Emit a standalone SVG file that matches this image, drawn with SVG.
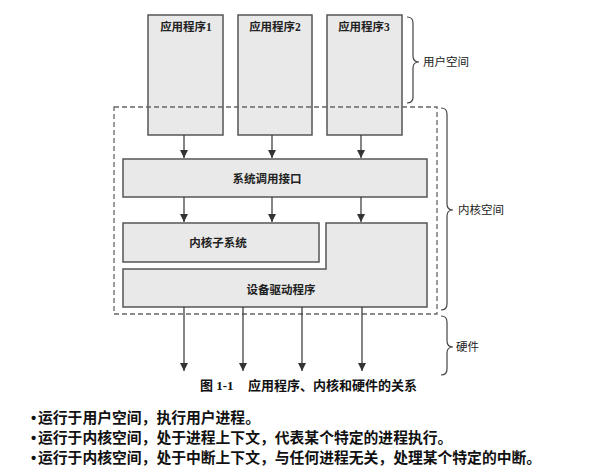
<svg xmlns="http://www.w3.org/2000/svg" width="603" height="476" viewBox="0 0 603 476">
<defs>
<style>
.box{fill:#e9e9e9;stroke:#555;stroke-width:1.5}
.lbl{font-family:"Liberation Serif","Noto Sans CJK SC",serif;font-size:11.5px;font-weight:bold;fill:#222;text-anchor:middle;dominant-baseline:central}
.side{font-family:"Liberation Sans","Noto Sans CJK SC",sans-serif;font-size:11.5px;fill:#222;dominant-baseline:central}
.brace{fill:none;stroke:#444;stroke-width:1.2}
.arr{stroke:#333;stroke-width:1.2;fill:none;marker-end:url(#ah)}
.cap{font-family:"Liberation Serif","Noto Sans CJK SC",serif;font-size:13px;font-weight:bold;fill:#111}
.bul{font-family:"Liberation Sans","Noto Sans CJK SC",sans-serif;font-size:14.8px;font-weight:bold;fill:#111}
</style>
<marker id="ah" viewBox="0 0 8 10" refX="8" refY="5" markerWidth="8" markerHeight="10" markerUnits="userSpaceOnUse" orient="auto">
<path d="M0,1 L8,5 L0,9 Z" fill="#333"/>
</marker>
</defs>
<rect width="603" height="476" fill="#fff"/>
<g id="app1"><rect class="box" x="148" y="15" width="75" height="120"/><text class="lbl" x="186" y="27">应用程序1</text></g>
<g id="app2"><rect class="box" x="238" y="15" width="74" height="120"/><text class="lbl" x="275" y="27">应用程序2</text></g>
<g id="app3"><rect class="box" x="327" y="15" width="75" height="120"/><text class="lbl" x="364" y="27">应用程序3</text></g>
<g id="syscall"><rect class="box" x="123" y="159" width="304" height="38"/><text class="lbl" x="267" y="179">系统调用接口</text></g>
<g id="subsys"><rect class="box" x="123" y="223" width="196" height="39"/><text class="lbl" x="218" y="243">内核子系统</text></g>
<g id="driver"><path class="box" d="M123,269 H326 V223 H427 V307 H123 Z"/><text class="lbl" x="281" y="290">设备驱动程序</text></g>
<g id="kernel-boundary"><rect x="114" y="107" width="323" height="207" fill="none" stroke="#666" stroke-width="1.3" stroke-dasharray="5,3"/></g>
<g id="connectors">
<line class="arr" x1="184" y1="135" x2="184" y2="158"/>
<line class="arr" x1="272" y1="135" x2="272" y2="158"/>
<line class="arr" x1="361" y1="135" x2="361" y2="158"/>
<line class="arr" x1="184" y1="197" x2="184" y2="222"/>
<line class="arr" x1="272" y1="197" x2="272" y2="222"/>
<line class="arr" x1="361" y1="197" x2="361" y2="222"/>
<line class="arr" x1="184" y1="307" x2="184" y2="371"/>
<line class="arr" x1="243" y1="307" x2="243" y2="371"/>
<line class="arr" x1="302" y1="307" x2="302" y2="371"/>
<line class="arr" x1="362" y1="307" x2="362" y2="371"/>
</g>
<g id="user-space">
<path class="brace" d="M407,17 Q413,17 413,23 V56 Q413,62 419,62 Q413,62 413,68 V97 Q413,103 407,103"/>
<text class="side" x="423" y="62">用户空间</text>
</g>
<g id="kernel-space">
<path class="brace" d="M441,108 Q447,108 447,114 V204 Q447,210 453,210 Q447,210 447,216 V304 Q447,310 441,310"/>
<text class="side" x="458" y="210">内核空间</text>
</g>
<g id="hardware">
<path class="brace" d="M441,316 Q447,316 447,322 V341 Q447,347 453,347 Q447,347 447,353 V369 Q447,375 441,375"/>
<text class="side" x="456" y="347">硬件</text>
</g>
<text class="cap" x="200" y="390">图 1-1<tspan x="248">应用程序、内核和硬件的关系</tspan></text>
<text class="bul" x="31" y="423">•</text><text class="bul" x="38" y="423">运行于用户空间，执行用户进程。</text>
<text class="bul" x="31" y="443">•</text><text class="bul" x="38" y="443">运行于内核空间，处于进程上下文，代表某个特定的进程执行。</text>
<text class="bul" x="31" y="463">•</text><text class="bul" x="38" y="463">运行于内核空间，处于中断上下文，与任何进程无关，处理某个特定的中断。</text>
</svg>
